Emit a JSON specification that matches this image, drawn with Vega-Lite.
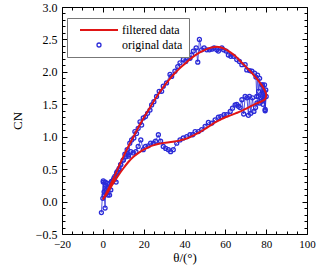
{
  "$schema": "https://vega.github.io/schema/vega-lite/v6.json",
  "width": 245,
  "height": 227,
  "autosize": {"type": "none"},
  "padding": {"left": 62, "top": 7, "right": 25, "bottom": 33},
  "background": "white",
  "config": {
    "view": {"stroke": "black", "strokeWidth": 1},
    "font": "Liberation Serif",
    "axis": {"grid": false, "domain": false, "tickColor": "black", "labelColor": "black", "titleColor": "black", "labelFont": "Liberation Serif", "titleFont": "Liberation Serif", "labelFontSize": 12, "titleFontSize": 13, "titleFontWeight": "normal"}
  },
  "datasets": {
    "filt": [
      {"i":0,"x":0,"y":0.03},{"i":1,"x":2.5,"y":0.18},{"i":2,"x":5,"y":0.34},{"i":3,"x":7.5,"y":0.52},{"i":4,"x":10,"y":0.69},{"i":5,"x":12.5,"y":0.85},{"i":6,"x":15,"y":1.0},{"i":7,"x":17.5,"y":1.15},{"i":8,"x":20,"y":1.29},{"i":9,"x":22.5,"y":1.42},{"i":10,"x":25,"y":1.55},{"i":11,"x":27.5,"y":1.67},{"i":12,"x":30,"y":1.78},{"i":13,"x":32.5,"y":1.88},{"i":14,"x":35,"y":1.97},{"i":15,"x":37.5,"y":2.05},{"i":16,"x":40,"y":2.12},{"i":17,"x":42.5,"y":2.19},{"i":18,"x":45,"y":2.25},{"i":19,"x":47.5,"y":2.3},{"i":20,"x":50,"y":2.34},{"i":21,"x":52.5,"y":2.37},{"i":22,"x":55,"y":2.385},{"i":23,"x":57.5,"y":2.38},{"i":24,"x":60,"y":2.35},{"i":25,"x":62.5,"y":2.3},{"i":26,"x":65,"y":2.24},{"i":27,"x":67.5,"y":2.16},{"i":28,"x":70,"y":2.08},{"i":29,"x":72.5,"y":2.0},{"i":30,"x":75,"y":1.91},{"i":31,"x":77,"y":1.83},{"i":32,"x":78.5,"y":1.76},{"i":33,"x":79.5,"y":1.7},{"i":34,"x":80,"y":1.65},
      {"i":35,"x":79.5,"y":1.58},{"i":36,"x":78,"y":1.55},{"i":37,"x":75,"y":1.51},{"i":38,"x":72.5,"y":1.47},{"i":39,"x":70,"y":1.43},{"i":40,"x":67.5,"y":1.39},{"i":41,"x":65,"y":1.36},{"i":42,"x":62.5,"y":1.33},{"i":43,"x":60,"y":1.3},{"i":44,"x":57.5,"y":1.26},{"i":45,"x":55,"y":1.22},{"i":46,"x":52.5,"y":1.17},{"i":47,"x":50,"y":1.12},{"i":48,"x":47.5,"y":1.07},{"i":49,"x":45,"y":1.03},{"i":50,"x":42.5,"y":0.99},{"i":51,"x":40,"y":0.96},{"i":52,"x":37.5,"y":0.94},{"i":53,"x":35,"y":0.925},{"i":54,"x":32.5,"y":0.915},{"i":55,"x":30,"y":0.905},{"i":56,"x":27.5,"y":0.89},{"i":57,"x":25,"y":0.87},{"i":58,"x":22.5,"y":0.84},{"i":59,"x":20,"y":0.8},{"i":60,"x":17.5,"y":0.75},{"i":61,"x":15,"y":0.69},{"i":62,"x":12.5,"y":0.61},{"i":63,"x":10,"y":0.51},{"i":64,"x":7.5,"y":0.4},{"i":65,"x":5,"y":0.28},{"i":66,"x":2.5,"y":0.15},{"i":67,"x":0,"y":0.03}
    ],
    "orig": [
      {"i":0,"x":-0.7,"y":-0.17},{"i":1,"x":0.2,"y":0.3},{"i":2,"x":0.6,"y":0.15},{"i":3,"x":1.1,"y":-0.1},{"i":4,"x":1.5,"y":0.25},{"i":5,"x":1.8,"y":0.13},{"i":6,"x":2.3,"y":0.28},{"i":7,"x":2.6,"y":0.21},{"i":8,"x":3.3,"y":0.1},{"i":9,"x":3.9,"y":0.18},{"i":10,"x":4.5,"y":0.3},{"i":11,"x":5.1,"y":0.33},{"i":12,"x":5.9,"y":0.39},{"i":13,"x":6.5,"y":0.3},{"i":14,"x":7.0,"y":0.46},{"i":15,"x":8.0,"y":0.51},{"i":16,"x":8.8,"y":0.57},{"i":17,"x":10.0,"y":0.64},{"i":18,"x":10.8,"y":0.73},{"i":19,"x":11.9,"y":0.8},{"i":20,"x":12.6,"y":0.7},{"i":21,"x":13.2,"y":0.9},{"i":22,"x":14.1,"y":0.95},{"i":23,"x":15.2,"y":0.98},{"i":24,"x":15.7,"y":1.08},{"i":25,"x":16.5,"y":1.05},{"i":26,"x":17.3,"y":1.13},{"i":27,"x":18.2,"y":1.23},{"i":28,"x":19.0,"y":1.18},{"i":29,"x":19.8,"y":1.29},{"i":30,"x":20.9,"y":1.31},{"i":31,"x":21.9,"y":1.36},{"i":32,"x":23.1,"y":1.41},{"i":33,"x":23.9,"y":1.49},{"i":34,"x":25.0,"y":1.54},{"i":35,"x":26.3,"y":1.62},{"i":36,"x":27.6,"y":1.7},{"i":37,"x":28.8,"y":1.7},{"i":38,"x":29.6,"y":1.78},{"i":39,"x":31.2,"y":1.83},{"i":40,"x":32.9,"y":1.96},{"i":41,"x":33.7,"y":1.93},{"i":42,"x":35.3,"y":2.01},{"i":43,"x":36.7,"y":2.08},{"i":44,"x":37.8,"y":2.14},{"i":45,"x":39.4,"y":2.19},{"i":46,"x":40.6,"y":2.16},{"i":47,"x":41.6,"y":2.21},{"i":48,"x":42.7,"y":2.21},{"i":49,"x":43.5,"y":2.26},{"i":50,"x":44.3,"y":2.32},{"i":51,"x":45.7,"y":2.37},{"i":52,"x":46.5,"y":2.15},{"i":53,"x":47.3,"y":2.5},{"i":54,"x":48.4,"y":2.34},{"i":55,"x":49.6,"y":2.37},{"i":56,"x":50.9,"y":2.34},{"i":57,"x":52.2,"y":2.34},{"i":58,"x":53.4,"y":2.35},{"i":59,"x":54.5,"y":2.37},{"i":60,"x":55.8,"y":2.34},{"i":61,"x":56.6,"y":2.32},{"i":62,"x":58.3,"y":2.37},{"i":63,"x":59.1,"y":2.34},{"i":64,"x":60.4,"y":2.32},{"i":65,"x":61.5,"y":2.26},{"i":66,"x":62.7,"y":2.24},{"i":67,"x":64.0,"y":2.24},{"i":68,"x":65.6,"y":2.19},{"i":69,"x":66.9,"y":2.16},{"i":70,"x":68.1,"y":2.11},{"i":71,"x":69.7,"y":2.11},{"i":72,"x":70.5,"y":2.03},{"i":73,"x":71.9,"y":2.02},{"i":74,"x":73.0,"y":2.01},{"i":75,"x":74.3,"y":1.98},{"i":76,"x":75.0,"y":1.92},{"i":77,"x":75.4,"y":1.62},{"i":78,"x":75.8,"y":1.95},{"i":79,"x":76.3,"y":1.7},{"i":80,"x":76.8,"y":1.9},{"i":81,"x":77.3,"y":1.6},{"i":82,"x":77.9,"y":1.8},{"i":83,"x":78.4,"y":1.5},{"i":84,"x":78.7,"y":1.67},{"i":85,"x":79.2,"y":1.8},{"i":86,"x":79.5,"y":1.42},{"i":87,"x":79.8,"y":1.72},
      {"i":88,"x":80.0,"y":1.62},{"i":89,"x":79.5,"y":1.4},{"i":90,"x":79.0,"y":1.7},{"i":91,"x":78.7,"y":1.57},{"i":92,"x":78.2,"y":1.8},{"i":93,"x":77.6,"y":1.55},{"i":94,"x":76.8,"y":1.52},{"i":95,"x":76.2,"y":1.62},{"i":96,"x":75.5,"y":1.52},{"i":97,"x":74.8,"y":1.45},{"i":98,"x":74.0,"y":1.39},{"i":99,"x":73.3,"y":1.6},{"i":100,"x":72.5,"y":1.36},{"i":101,"x":71.8,"y":1.62},{"i":102,"x":71.3,"y":1.33},{"i":103,"x":70.6,"y":1.6},{"i":104,"x":69.7,"y":1.62},{"i":105,"x":69.0,"y":1.35},{"i":106,"x":68.1,"y":1.57},{"i":107,"x":67.2,"y":1.45},{"i":108,"x":66.4,"y":1.47},{"i":109,"x":65.6,"y":1.5},{"i":110,"x":64.8,"y":1.49},{"i":111,"x":63.5,"y":1.44},{"i":112,"x":62.4,"y":1.39},{"i":113,"x":60.7,"y":1.34},{"i":114,"x":59.4,"y":1.34},{"i":115,"x":57.8,"y":1.31},{"i":116,"x":56.6,"y":1.3},{"i":117,"x":55.0,"y":1.26},{"i":118,"x":53.4,"y":1.21},{"i":119,"x":51.7,"y":1.22},{"i":120,"x":50.1,"y":1.16},{"i":121,"x":48.4,"y":1.11},{"i":122,"x":46.8,"y":1.08},{"i":123,"x":45.2,"y":1.08},{"i":124,"x":44.0,"y":1.03},{"i":125,"x":42.7,"y":1.03},{"i":126,"x":41.1,"y":1.0},{"i":127,"x":39.4,"y":0.98},{"i":128,"x":37.8,"y":0.95},{"i":129,"x":36.2,"y":0.9},{"i":130,"x":34.5,"y":0.8},{"i":131,"x":33.2,"y":0.77},{"i":132,"x":32.1,"y":0.8},{"i":133,"x":30.8,"y":0.82},{"i":134,"x":29.6,"y":0.85},{"i":135,"x":28.3,"y":0.93},{"i":136,"x":27.2,"y":1.03},{"i":137,"x":25.8,"y":0.93},{"i":138,"x":24.7,"y":0.9},{"i":139,"x":23.4,"y":0.9},{"i":140,"x":22.2,"y":0.86},{"i":141,"x":20.9,"y":0.85},{"i":142,"x":19.8,"y":0.8},{"i":143,"x":18.6,"y":0.95},{"i":144,"x":17.3,"y":0.85},{"i":145,"x":16.2,"y":0.77},{"i":146,"x":14.9,"y":0.75},{"i":147,"x":13.7,"y":0.77},{"i":148,"x":12.4,"y":0.72},{"i":149,"x":11.3,"y":0.69},{"i":150,"x":10.0,"y":0.64},{"i":151,"x":8.7,"y":0.57},{"i":152,"x":7.8,"y":0.49},{"i":153,"x":6.7,"y":0.44},{"i":154,"x":5.4,"y":0.36},{"i":155,"x":4.2,"y":0.31},{"i":156,"x":3.1,"y":0.26},{"i":157,"x":2.5,"y":0.1},{"i":158,"x":1.8,"y":0.18},{"i":159,"x":1.2,"y":0.3},{"i":160,"x":0.6,"y":0.1},{"i":161,"x":0.2,"y":0.32},{"i":162,"x":0.0,"y":0.05}
    ]
  },
  "resolve": {"scale": {"x": "shared", "y": "shared"}, "axis": {"x": "independent", "y": "independent"}},
  "layer": [
    {
      "data": {"name": "orig"},
      "transform": [{"calculate": "'original data'", "as": "s"}],
      "mark": {"type": "line", "strokeWidth": 0.8, "clip": true},
      "encoding": {
        "x": {"field": "x", "type": "quantitative", "scale": {"domain": [-20, 100], "nice": false, "zero": false},
          "axis": {"orient": "bottom", "values": [-20, 0, 20, 40, 60, 80, 100], "tickSize": -5, "labelPadding": 9, "labelFontSize": 11, "title": "θ/(°)", "titlePadding": 2, "labelFlush": false}},
        "y": {"field": "y", "type": "quantitative", "scale": {"domain": [-0.5, 3.0], "nice": false, "zero": false},
          "axis": {"orient": "left", "values": [-0.5, 0, 0.5, 1, 1.5, 2, 2.5, 3], "format": ".1f", "tickSize": -5, "labelPadding": 10, "title": "CN", "titlePadding": 11, "labelFlush": false}},
        "order": {"field": "i", "type": "quantitative"},
        "color": {"field": "s", "type": "nominal",
          "scale": {"domain": ["filtered data", "original data"], "range": ["#e01515", "#2b2bd8"]},
          "legend": {"orient": "none", "legendX": 5, "legendY": 11, "title": null, "strokeColor": "#777777", "fillColor": "white", "padding": 6,
            "labelFont": "Liberation Serif", "labelFontSize": 12, "labelColor": "black", "symbolSize": 25, "symbolOffset": 20, "labelOffset": 17, "rowPadding": 3,
            "encode": {"symbols": {"update": {
              "shape": {"signal": "datum.label === 'filtered data' ? 'stroke' : 'circle'"},
              "size": {"signal": "datum.label === 'filtered data' ? 1444 : 16"},
              "stroke": {"signal": "datum.label === 'filtered data' ? '#e01515' : '#2b2bd8'"},
              "strokeWidth": {"signal": "datum.label === 'filtered data' ? 2 : 1.3"},
              "fill": {"value": "transparent"},
              "opacity": {"value": 1}
            }}}}
        }
      }
    },
    {
      "data": {"name": "orig"},
      "transform": [{"calculate": "'original data'", "as": "s"}],
      "mark": {"type": "point", "filled": false, "size": 16, "strokeWidth": 1.3, "opacity": 1, "clip": true},
      "encoding": {
        "x": {"field": "x", "type": "quantitative", "axis": {"orient": "top", "values": [-20, 0, 20, 40, 60, 80, 100], "tickSize": -5, "labels": false, "title": null}},
        "y": {"field": "y", "type": "quantitative", "axis": {"orient": "right", "values": [-0.5, 0, 0.5, 1, 1.5, 2, 2.5, 3], "tickSize": -5, "labels": false, "title": null}},
        "color": {"field": "s", "type": "nominal"}
      }
    },
    {
      "data": {"name": "filt"},
      "transform": [{"calculate": "'filtered data'", "as": "s"}],
      "mark": {"type": "line", "interpolate": "catmull-rom", "strokeWidth": 2, "clip": true},
      "encoding": {
        "x": {"field": "x", "type": "quantitative", "axis": {"orient": "bottom", "values": [-15, -10, -5, 5, 10, 15, 25, 30, 35, 45, 50, 55, 65, 70, 75, 85, 90, 95], "tickSize": -3, "labels": false, "title": null}},
        "y": {"field": "y", "type": "quantitative", "axis": {"orient": "left", "values": [-0.4, -0.3, -0.2, -0.1, 0.1, 0.2, 0.3, 0.4, 0.6, 0.7, 0.8, 0.9, 1.1, 1.2, 1.3, 1.4, 1.6, 1.7, 1.8, 1.9, 2.1, 2.2, 2.3, 2.4, 2.6, 2.7, 2.8, 2.9], "tickSize": -3, "labels": false, "title": null}},
        "order": {"field": "i", "type": "quantitative"},
        "color": {"field": "s", "type": "nominal"}
      }
    },
    {
      "data": {"name": "orig"},
      "mark": {"type": "point", "opacity": 0, "clip": true},
      "encoding": {
        "x": {"field": "x", "type": "quantitative", "axis": {"orient": "top", "values": [-15, -10, -5, 5, 10, 15, 25, 30, 35, 45, 50, 55, 65, 70, 75, 85, 90, 95], "tickSize": -3, "labels": false, "title": null}},
        "y": {"field": "y", "type": "quantitative", "axis": {"orient": "right", "values": [-0.4, -0.3, -0.2, -0.1, 0.1, 0.2, 0.3, 0.4, 0.6, 0.7, 0.8, 0.9, 1.1, 1.2, 1.3, 1.4, 1.6, 1.7, 1.8, 1.9, 2.1, 2.2, 2.3, 2.4, 2.6, 2.7, 2.8, 2.9], "tickSize": -3, "labels": false, "title": null}}
      }
    }
  ]
}
